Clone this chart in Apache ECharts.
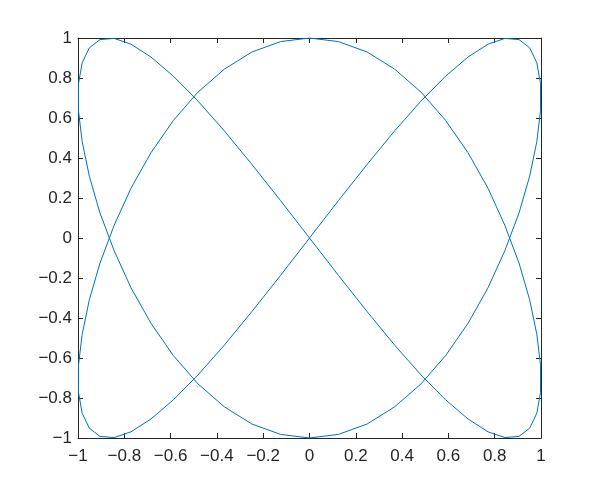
<!DOCTYPE html>
<html>
<head>
<meta charset="utf-8">
<script src="https://cdn.jsdelivr.net/npm/echarts@6/dist/echarts.min.js"></script>
<style>
html,body{margin:0;padding:0;background:#fff;}
#chart{width:597px;height:494px;}
</style>
</head>
<body>
<div id="chart"></div>
<script>
var xValues = [0,0.125,0.249,0.368,0.482,0.588,0.685,0.771,0.844,0.905,0.951,0.982,0.998,0.998,0.982,0.951,0.905,0.844,0.771,0.685,0.588,0.482,0.368,0.249,0.125,0,-0.125,-0.249,-0.368,-0.482,-0.588,-0.685,-0.771,-0.844,-0.905,-0.951,-0.982,-0.998,-0.998,-0.982,-0.951,-0.905,-0.844,-0.771,-0.685,-0.588,-0.482,-0.368,-0.249,-0.125,
0,0.125,0.249,0.368,0.482,0.588,0.685,0.771,0.844,0.905,0.951,0.982,0.998,0.998,0.982,0.951,0.905,0.844,0.771,0.685,0.588,0.482,0.368,0.249,0.125,0,-0.125,-0.249,-0.368,-0.482,-0.588,-0.685,-0.771,-0.844,-0.905,-0.951,-0.982,-0.998,-0.998,-0.982,-0.951,-0.905,-0.844,-0.771,-0.685,-0.588,-0.482,-0.368,-0.249,-0.125,0];
var yValues = [0,0.187,0.368,0.536,0.685,0.809,0.905,0.969,0.998,0.992,0.951,0.876,0.771,0.637,0.482,0.309,0.125,-0.063,-0.249,-0.426,-0.588,-0.729,-0.844,-0.930,-0.982,-1,-0.982,-0.930,-0.844,-0.729,-0.588,-0.426,-0.249,-0.063,0.125,0.309,0.482,0.637,0.771,0.876,0.951,0.992,0.998,0.969,0.905,0.809,0.685,0.536,0.368,0.187,
0,-0.187,-0.368,-0.536,-0.685,-0.809,-0.905,-0.969,-0.998,-0.992,-0.951,-0.876,-0.771,-0.637,-0.482,-0.309,-0.125,0.063,0.249,0.426,0.588,0.729,0.844,0.930,0.982,1,0.982,0.930,0.844,0.729,0.588,0.426,0.249,0.063,-0.125,-0.309,-0.482,-0.637,-0.771,-0.876,-0.951,-0.992,-0.998,-0.969,-0.905,-0.809,-0.685,-0.536,-0.368,-0.187,0];
var xTicks = [-1,-0.8,-0.6,-0.4,-0.2,0,0.2,0.4,0.6,0.8,1];
var yTicks = [-1,-0.8,-0.6,-0.4,-0.2,0,0.2,0.4,0.6,0.8,1];

var pts = xValues.map(function(x,i){return [x, yValues[i]];});
var axisColor = '#262626';
var font = {color: axisColor, fontFamily: 'Liberation Sans, Arial, Helvetica, sans-serif', fontSize: 17};

function fmt(v) {
  var r = Math.round(v*10)/10;
  return r < 0 ? '\u2212' + String(-r) : String(r);
}

function mkAxis(ticks, pos, showLabel) {
  return {
    type: 'value', position: pos,
    min: ticks[0], max: ticks[ticks.length-1], interval: 0.2,
    axisLine: {show: true, onZero: false, lineStyle: {color: axisColor, width: 1}},
    axisTick: {show: true, inside: true, length: 5, lineStyle: {color: axisColor, width: 1}},
    splitLine: {show: false},
    axisLabel: Object.assign({show: showLabel, margin: (pos==='bottom'||pos==='top') ? 10 : 6,
      formatter: fmt}, font)
  };
}

var chart = echarts.init(document.getElementById('chart'), null, {renderer: 'canvas'});
chart.setOption({
  backgroundColor: '#ffffff',
  animation: false,
  grid: {left: 78, top: 38, width: 463, height: 400, containLabel: false},
  xAxis: [mkAxis(xTicks, 'bottom', true), mkAxis(xTicks, 'top', false)],
  yAxis: [mkAxis(yTicks, 'left', true), mkAxis(yTicks, 'right', false)],
  series: [{
    type: 'line', data: pts, xAxisIndex: 0, yAxisIndex: 0,
    showSymbol: false, symbol: 'none', smooth: false,
    lineStyle: {color: '#0072BD', width: 1}
  }]
});
</script>
</body>
</html>
